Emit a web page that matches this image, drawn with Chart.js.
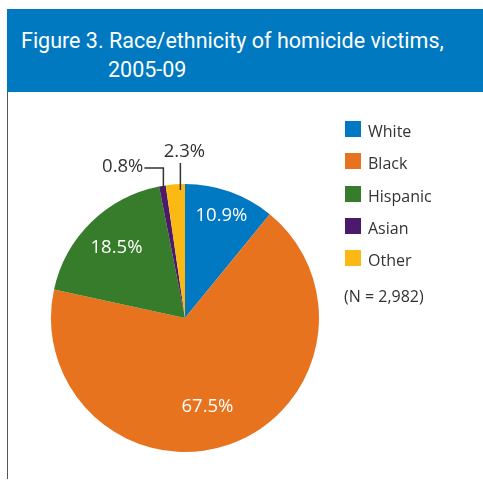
<!DOCTYPE html>
<html>
<head>
<meta charset="utf-8">
<script src="https://cdn.jsdelivr.net/npm/chart.js@4.4.1/dist/chart.umd.min.js"></script>
<style>
  html, body { margin: 0; padding: 0; background: #fff; }
  body { width: 483px; height: 481px; position: relative; overflow: hidden; font-family: "Open Sans", sans-serif; }
  .header {
    position: absolute; left: 7px; top: 9px; width: 476px; height: 83px;
    background: #0079c1; color: #fff;
    font-family: Roboto, sans-serif; font-size: 21.5px;
  }
  .header .l1 { position: absolute; left: 14px; top: 19px; white-space: nowrap; }
  .header .l2 { position: absolute; left: 101px; top: 48px; white-space: nowrap; }
  .frame { position: absolute; left: 7px; top: 92px; width: 1px; height: 387px; background: #555; }
  #chart-canvas { position: absolute; left: 0; top: 0; }
  .legend { position: absolute; left: 345px; top: 121px; }
  .legend .item { position: relative; height: 32.3px; }
  .legend .sw { position: absolute; left: 0; top: 0; width: 16px; height: 16px; }
  .legend .txt { position: absolute; left: 23px; top: -1px; font-size: 16px; color: #333; white-space: nowrap; }
  .note { position: absolute; left: 344px; top: 285px; font-size: 16px; color: #333; white-space: nowrap; }
</style>
</head>
<body>
<div class="header">
  <div class="l1">Figure 3. Race/ethnicity of homicide victims,</div>
  <div class="l2">2005-09</div>
</div>
<div class="frame"></div>
<canvas id="chart-canvas" width="483" height="481"></canvas>
<div class="legend" id="legend"></div>
<div class="note">(N = 2,982)</div>
<script>
document.addEventListener("DOMContentLoaded", () => {

  const groups = ['White', 'Black', 'Hispanic', 'Asian', 'Other'];
  const shares = [10.9, 67.5, 18.5, 0.8, 2.3];
  const colors = ['#0079c2', '#e8731e', '#367c2b', '#4b1a6b', '#fdb913'];

  // legend boxes on the right
  const legend = document.getElementById("legend");
  groups.forEach((g, i) => {
    const item = document.createElement("div");
    item.className = "item";
    item.innerHTML = `<div class="sw" style="background:${colors[i]}"></div><div class="txt">${g}</div>`;
    legend.appendChild(item);
  });

  // where each percentage goes: inside the slice (r = fraction of radius)
  // or outside with a leader line (small slices)
  const labelSpots = [
    { inside: true, r: 0.81, nudge: 0 },
    { inside: true, r: 0.68, nudge: 5 },
    { inside: true, r: 0.73, nudge: 0 },
    { inside: false, at: 0.5, side: 'left' },
    { inside: false, at: 0.75, side: 'top' }
  ];

  const pctLabels = {
    id: 'pctLabels',
    afterDatasetsDraw(chart) {
      const ctx = chart.ctx;
      const arcs = chart.getDatasetMeta(0).data;
      ctx.save();
      ctx.font = '18.5px "Open Sans", sans-serif';
      ctx.textBaseline = 'middle';
      arcs.forEach((arc, i) => {
        const spot = labelSpots[i];
        const text = shares[i].toFixed(1) + '%';
        const cx = arc.x, cy = arc.y, R = arc.outerRadius;
        if (spot.inside) {
          const mid = (arc.startAngle + arc.endAngle) / 2 + spot.nudge * Math.PI / 180;
          ctx.fillStyle = '#fff';
          ctx.textAlign = 'center';
          ctx.fillText(text, cx + Math.cos(mid) * R * spot.r, cy + Math.sin(mid) * R * spot.r);
        } else {
          const a = arc.startAngle + (arc.endAngle - arc.startAngle) * spot.at;
          const ex = cx + Math.cos(a) * (R - 6);
          const ey = cy + Math.sin(a) * (R - 6);
          ctx.strokeStyle = '#333';
          ctx.lineWidth = 1.5;
          ctx.fillStyle = '#333';
          ctx.beginPath();
          if (spot.side === 'left') {
            const ty = cy - R - 16;
            ctx.moveTo(ex, ey);
            ctx.lineTo(ex, ty);
            ctx.lineTo(ex - 19, ty);
            ctx.stroke();
            ctx.textAlign = 'right';
            ctx.fillText(text, ex - 20, ty - 1);
          } else {
            const ty = cy - R - 21;
            ctx.moveTo(ex, ey);
            ctx.lineTo(ex, ty);
            ctx.stroke();
            ctx.textAlign = 'center';
            ctx.fillText(text, ex + 4, ty - 11);
          }
        }
      });
      ctx.restore();
    }
  };

  const ctx = document.getElementById("chart-canvas").getContext("2d");
  new Chart(ctx, {
    type: 'pie',
    data: {
      labels: groups,
      datasets: [{
        data: shares,
        backgroundColor: colors,
        borderWidth: 0
      }]
    },
    options: {
      responsive: false,
      animation: false,
      layout: { padding: { left: 51, right: 164, top: 184, bottom: 29 } },
      plugins: {
        legend: { display: false },
        tooltip: { enabled: false }
      }
    },
    plugins: [pctLabels]
  });
});
</script>
</body>
</html>
